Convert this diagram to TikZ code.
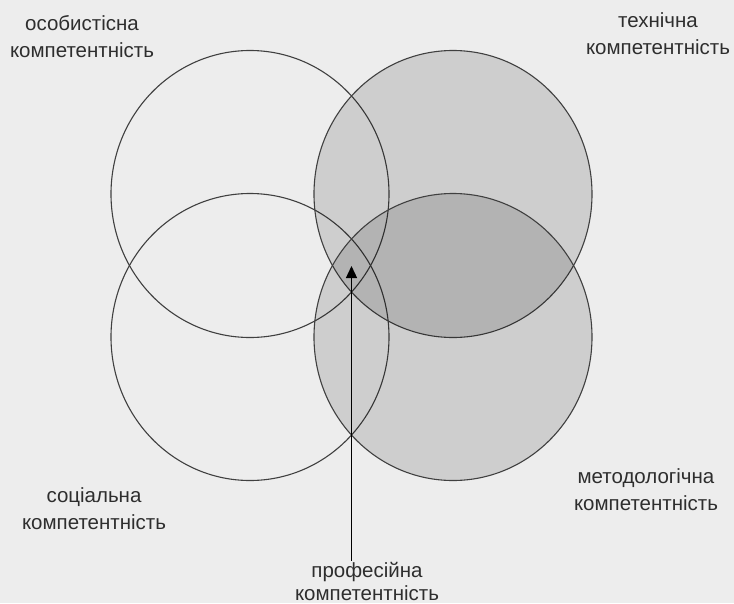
\documentclass[tikz,border=0pt]{standalone}
\usepackage{fontspec}
\setmainfont{Liberation Sans}
\definecolor{paperBg}{HTML}{EDEDED}
\definecolor{lineGray}{HTML}{404040}
\usetikzlibrary{positioning,shapes.geometric,arrows.meta}

\begin{document}
\begin{tikzpicture}[x=1pt, y=-1pt,
        ring/.style={ellipse, draw=lineGray, line width=1.1pt, inner sep=0pt,
                     minimum width=278pt, minimum height=287pt},
        dotted ring/.style={ring, fill=black, fill opacity=0.13, draw opacity=1},
        label/.style={font=\fontsize{20.5}{27}\selectfont, align=center,
                      text=black!82, inner sep=1pt},
        arrow/.style={-{Triangle[length=12pt, width=11pt]}, line width=1.3pt},
      ]
        % Тло
        \useasboundingbox[fill=paperBg] (0,0) rectangle (734,603);
        % Чотири кола компетентностей
        \node[ring] (osob) at (250,194) {};
        \node[ring] (soc) at (250,337) {};
        \node[dotted ring] (tech) at (453,194) {};
        \node[dotted ring] (metod) at (453,337) {};
        % Точка перетину всіх кіл
        \coordinate (centre) at (351.5,266);
        % Підписи
        \node[label] (osobT) at (82,37) {особистісна\\компетентність};
        \node[label] (techT) at (658,34) {технічна\\компетентність};
        \node[label] (socT) at (94,509) {соціальна\\компетентність};
        \node[label] (metodT) at (646,490) {методологічна\\компетентність};
        \node[label, font=\fontsize{20.5}{23}\selectfont] (prof) at (367,581)
          {професійна\\компетентність};
        % Стрілка до центру
        \draw[arrow] (prof.north -| centre) -- (centre);
      \end{tikzpicture}
\end{document}
